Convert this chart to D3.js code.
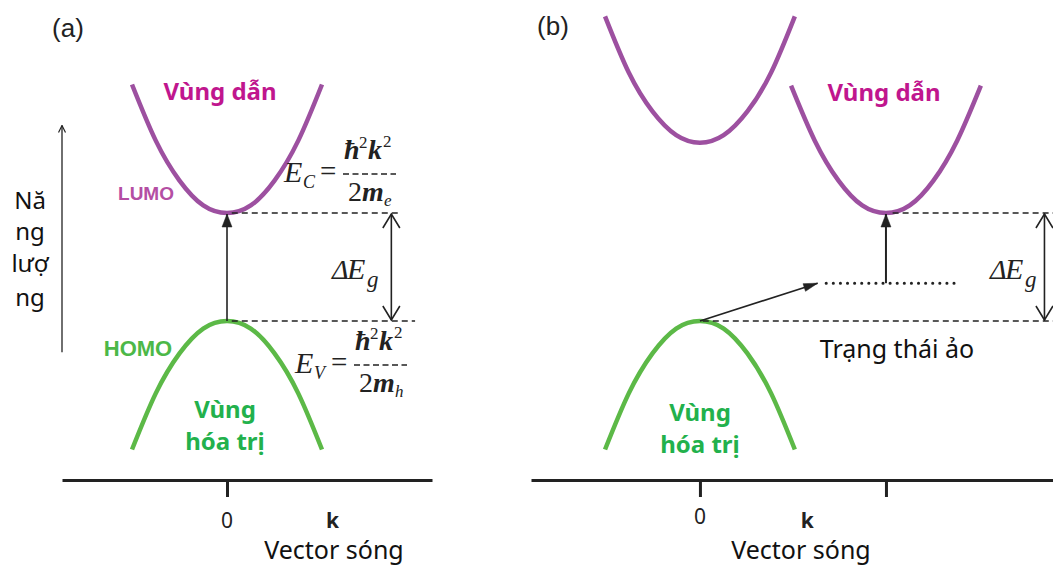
<!DOCTYPE html>
<html>
<head>
<meta charset="utf-8">
<script src="https://d3js.org/d3.v7.min.js"></script>
<style>
  body { margin: 0; background: #fff; }
  svg { display: block; }
</style>
</head>
<body>
<svg id="chart" width="1053" height="565"></svg>
<script>
// wave-vector samples (k units) and band energies (gap = 1 unit)
var bandK   = [-1, -0.75, -0.5, -0.25, 0, 0.25, 0.5, 0.75, 1];
var condA   = [2.19, 1.67, 1.30, 1.07, 1.00, 1.07, 1.30, 1.67, 2.19];
var valA    = [-1.19, -0.67, -0.30, -0.07, 0, -0.07, -0.30, -0.67, -1.19];
var condB1  = [2.82, 2.30, 1.94, 1.72, 1.65, 1.72, 1.94, 2.30, 2.82];
var condB2  = [2.18, 1.67, 1.30, 1.07, 1.00, 1.07, 1.30, 1.67, 2.18];
var valB    = [-1.19, -0.67, -0.30, -0.07, 0, -0.07, -0.30, -0.67, -1.19];
var shiftB2 = 1.96;          // k of the indirect conduction minimum
var levels  = [0, 1];        // HOMO / LUMO energies
var virtualE = 0.35;         // virtual state level
var virtualK = [1.33, 2.74];
var ticksA = [0];
var ticksB = [0, shiftB2];

var svg = d3.select('#chart');

var xA = d3.scaleLinear().domain([-1.737, 2.158]).range([62, 432]);
var xB = d3.scaleLinear().domain([-1.78, 3.72]).range([531, 1053]);
var y  = d3.scaleLinear().domain([0, 1]).range([321, 213]);

var purple = '#9d50a0', green = '#5cb947', ink = '#222';
var sans = "'Noto Sans', 'Open Sans', sans-serif";
var serif = "'Liberation Serif', 'DejaVu Serif', serif";
var arial = "'Liberation Sans', Arial, sans-serif";

// markers
var defs = svg.append('defs');
function marker(id, w, h, filled, sw) {
  var m = defs.append('marker')
    .attr('id', id)
    .attr('markerUnits', 'userSpaceOnUse')
    .attr('viewBox', '-1 -1 ' + (w + 2) + ' ' + (h + 2))
    .attr('markerWidth', w + 2).attr('markerHeight', h + 2)
    .attr('refX', w).attr('refY', h / 2)
    .attr('orient', 'auto-start-reverse');
  m.append('path')
    .attr('d', filled ? 'M0,0L' + w + ',' + (h / 2) + 'L0,' + h + 'Z'
                      : 'M0,0L' + w + ',' + (h / 2) + 'L0,' + h)
    .attr('fill', filled ? ink : 'none')
    .attr('stroke', ink)
    .attr('stroke-width', filled ? 0.5 : sw)
    .attr('stroke-linejoin', 'miter');
}
marker('fill', 13, 10, true);
marker('slim', 14, 8, true);
marker('open', 14, 17, false, 1.6);
marker('small', 7, 7, false, 1.2);

var line = d3.line().curve(d3.curveNatural);

function band(sx, es, shift, color) {
  svg.append('path')
    .attr('d', line(bandK.map(function(k, i) { return [sx(k + shift), y(es[i])]; })))
    .attr('fill', 'none')
    .attr('stroke', color)
    .attr('stroke-width', 4.5)
    .attr('stroke-linecap', 'butt');
}

function hline(x1, x2, yy, dash, sw) {
  svg.append('line')
    .attr('x1', x1).attr('x2', x2).attr('y1', yy).attr('y2', yy)
    .attr('stroke', ink).attr('stroke-width', sw || 1.5)
    .attr('stroke-dasharray', dash)
    .attr('stroke-linecap', dash === '0.1 7' ? 'round' : 'butt');
}

function arrow(x1, y1, x2, y2, end, start, sw) {
  var l = svg.append('line')
    .attr('x1', x1).attr('y1', y1).attr('x2', x2).attr('y2', y2)
    .attr('stroke', ink).attr('stroke-width', sw || 1.6);
  if (end) l.attr('marker-end', 'url(#' + end + ')');
  if (start) l.attr('marker-start', 'url(#' + start + ')');
}

function text(x, yy, s, size, color, weight, anchor, family, style) {
  return svg.append('text')
    .attr('x', x).attr('y', yy)
    .attr('font-size', size)
    .attr('fill', color || ink)
    .attr('font-weight', weight || 'normal')
    .attr('font-style', style || 'normal')
    .attr('text-anchor', anchor || 'middle')
    .attr('font-family', family || sans)
    .text(s);
}

function axis(sx, ticks, yy) {
  var g = svg.append('g')
    .attr('transform', 'translate(0,' + yy + ')')
    .call(d3.axisBottom(sx).tickValues(ticks).tickSizeInner(17).tickSizeOuter(0).tickFormat(''));
  g.selectAll('path, line').attr('stroke', ink).attr('stroke-width', 3);
}

function formula(ox, by, sub, mass) {
  text(ox - 1, by, 'E', 30, ink, 'normal', 'start', serif, 'italic');
  text(ox + 18, by + 6, sub, 18, ink, 'normal', 'start', serif, 'italic');
  text(ox + 35, by - 1, '=', 29, ink, 'normal', 'start', serif);
  var nx = ox + 59, ny = by - 23;
  text(nx, ny, '\u0127', 28, ink, 'bold', 'start', serif, 'italic');
  text(nx + 15, ny - 11, '2', 17, ink, 'normal', 'start', serif);
  text(nx + 24, ny, 'k', 28, ink, 'bold', 'start', serif, 'italic');
  text(nx + 39, ny - 12, '2', 17, ink, 'normal', 'start', serif);
  hline(nx - 1, nx + 52, by - 8, '6 3.5', 1.4);
  text(nx + 4, by + 19, '2', 28, ink, 'normal', 'start', serif);
  text(nx + 18, by + 19, 'm', 28, ink, 'bold', 'start', serif, 'italic');
  text(nx + 40, by + 24, mass, 17, ink, 'normal', 'start', serif, 'italic');
}

function deltaE(ox, by) {
  text(ox, by, '\u0394', 28, ink, 'normal', 'start', serif, 'italic');
  text(ox + 15, by, 'E', 30, ink, 'normal', 'start', serif, 'italic');
  text(ox + 35, by + 8, 'g', 23, ink, 'normal', 'start', serif, 'italic');
}

// ---------------- panel (a) ----------------
text(68, 37, '(a)', 26, ink, 'normal', 'middle', arial);

band(xA, condA, 0, purple);
band(xA, valA, 0, green);

hline(xA(0.05), xA(1.82), y(1), '6 4');
hline(xA(0.05), xA(1.98), y(0), '6 4');
arrow(xA(0), y(0), xA(0), y(1) + 1, 'fill');
arrow(xA(1.73), y(0) - 1, xA(1.73), y(1) + 1, 'open', 'open', 1.6);
arrow(xA(-1.737), y(-0.29), xA(-1.737), y(1.81), 'small', null, 1.3);

axis(xA, ticksA, 480);

text(220, 100, 'V\u00f9ng d\u1eabn', 24, '#c0168e', 'bold');
text(146, 200, 'LUMO', 19, '#b44ea3', 'bold', 'middle', arial);
text(138, 356, 'HOMO', 22, '#4cb848', 'bold', 'middle', arial);
text(225, 418, 'V\u00f9ng', 24, '#22b14c', 'bold');
text(225, 450, 'h\u00f3a tr\u1ecb', 24, '#22b14c', 'bold');

formula(285, 182, 'C', 'e');
formula(296, 373, 'V', 'h');
deltaE(332, 279);

['N\u0103', 'ng', 'l\u01b0\u1ee3', 'ng'].forEach(function(s, i) {
  text(30, [209, 240, 272, 306][i], s, 24, '#111');
});

text(xA(0), 528, '0', 21, '#222');
text(xA(1.11), 528, 'k', 21, '#222', 'bold');
text(334, 559, 'Vector s\u00f3ng', 25, '#111');

// ---------------- panel (b) ----------------
text(553, 35, '(b)', 26, ink, 'normal', 'middle', arial);

band(xB, condB1, 0, purple);
band(xB, condB2, shiftB2, purple);
band(xB, valB, 0, green);

hline(xB(2.03), xB(3.72), y(1), '6 4');
hline(xB(0.03), xB(3.72), y(0), '6 4');
hline(xB(virtualK[0]), xB(virtualK[1]), y(virtualE), '0.1 7', 3);
arrow(xB(shiftB2), y(virtualE), xB(shiftB2), y(1) + 1, 'fill', null, 2);
arrow(xB(0), y(0), xB(1.24), y(virtualE), 'slim', null, 1.6);
arrow(xB(3.63), y(0) - 1, xB(3.63), y(1) + 1, 'open', 'open', 1.6);

axis(xB, ticksB, 480);

text(884, 101, 'V\u00f9ng d\u1eabn', 24, '#c0168e', 'bold');
text(700, 421, 'V\u00f9ng', 24, '#22b14c', 'bold');
text(700, 453, 'h\u00f3a tr\u1ecb', 24, '#22b14c', 'bold');
text(897, 358, 'Tr\u1ea1ng th\u00e1i \u1ea3o', 25, '#111');
deltaE(990, 279);

text(xB(0), 524, '0', 21, '#222');
text(xB(1.13), 528, 'k', 21, '#222', 'bold');
text(801, 559, 'Vector s\u00f3ng', 25, '#111');
</script>
</body>
</html>
